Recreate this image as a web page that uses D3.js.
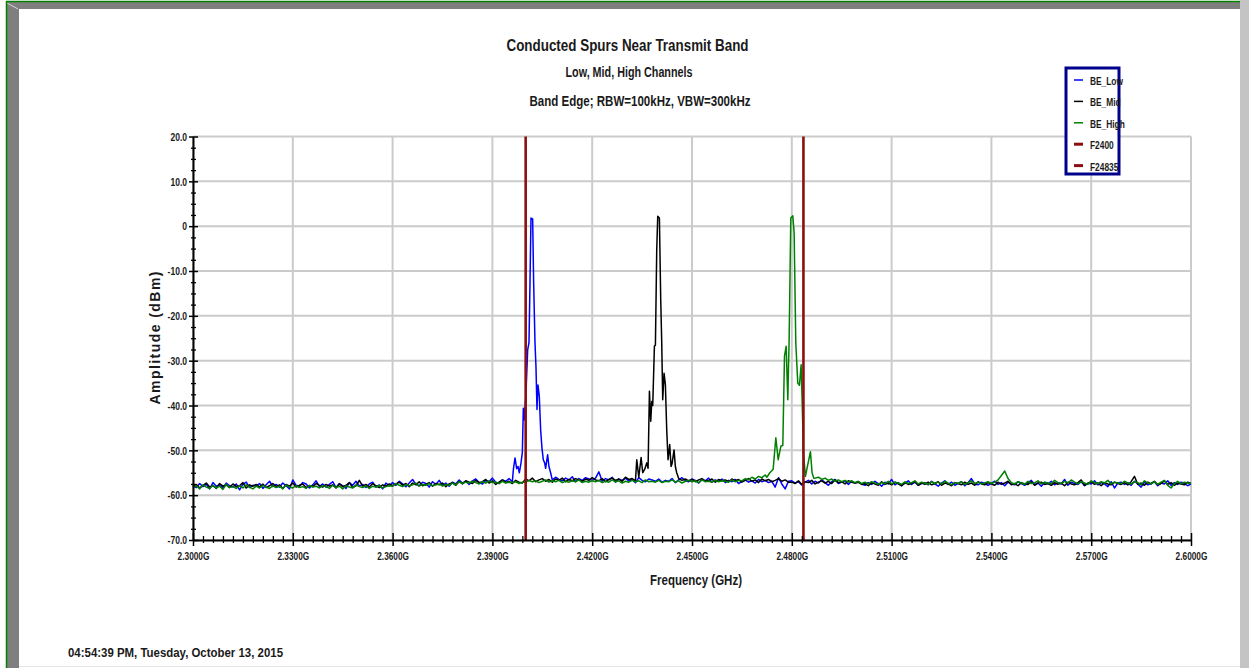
<!DOCTYPE html>
<html>
<head>
<meta charset="utf-8">
<script src="https://cdn.jsdelivr.net/npm/d3@7"></script>
<style>
  body { margin: 0; background: #fff; }
  svg text { font-family: 'Liberation Sans Narrow', 'Arial Narrow', 'Liberation Sans', Arial, sans-serif; font-weight: bold; fill: #1a1a1a; }
</style>
</head>
<body>
<svg id="chart" width="1249" height="668"></svg>
<script>
// sweep grid of the noise floor traces (GHz)
const freqStart = 2.300;
const freqStep = 0.001;

// dBm, one value per MHz, 2.300 .. 2.600 GHz
const lowFloor = [
  -57.9,-58.3,-57.4,-58.1,-57.6,-58.6,-57.2,-58.0,-57.7,-58.4,-57.3,-57.9,-58.2,-57.5,-58.8,-57.6,-57.1,-58.3,-57.8,-58.0,
  -57.4,-58.5,-57.7,-56.9,-58.1,-57.6,-58.2,-57.3,-57.9,-58.6,-56.6,-57.8,-58.0,-57.2,-57.5,-58.4,-57.7,-56.8,-58.1,-57.5,
  -58.2,-57.6,-57.0,-58.3,-57.4,-57.9,-58.5,-57.2,-57.8,-56.9,-58.0,-57.6,-58.3,-57.5,-57.1,-58.2,-57.7,-58.6,-57.3,-57.9,
  -57.2,-57.8,-56.9,-57.5,-58.1,-57.3,-56.5,-57.6,-57.9,-57.1,-57.4,-58.2,-57.0,-57.6,-56.7,-57.8,-57.3,-58.0,-57.1,-57.5,
  -56.6,-57.3,-56.9,-57.6,-56.8,-56.4,-57.2,-57.5,-56.7,-57.0,-56.2,-57.1,-57.4,-56.6,-56.9,-56.3,-57.0,-54.3,-53.6,-52.8,
  -37.2,-26.0,1.6,-31.3,-38.0,-52.1,-51.0,-53.6,-56.6,-56.0,-56.5,-56.8,-56.2,-56.6,-55.9,-57.0,-56.3,-56.7,-56.1,-56.4,
  -56.7,-56.2,-54.8,-56.9,-56.3,-56.6,-56.0,-57.1,-56.4,-56.7,-56.2,-56.8,-56.5,-57.2,-56.1,-56.7,-57.0,-56.4,-56.6,-56.9,
  -56.4,-57.1,-56.7,-56.9,-56.3,-57.2,-56.6,-56.1,-56.8,-57.0,-56.4,-56.7,-57.3,-56.5,-56.8,-56.2,-57.1,-56.6,-56.9,-56.4,
  -57.2,-56.7,-57.0,-56.5,-57.4,-56.9,-56.6,-57.1,-56.8,-57.3,-56.5,-57.0,-56.7,-57.2,-56.9,-58.2,-56.1,-57.5,-58.6,-56.9,
  -56.8,-57.3,-57.0,-57.7,-57.1,-56.7,-57.5,-56.9,-57.3,-56.6,-57.2,-57.8,-57.0,-56.5,-57.4,-57.1,-56.8,-57.6,-56.9,-57.3,
  -57.0,-57.5,-57.8,-57.2,-57.6,-56.9,-57.4,-58.0,-57.1,-57.5,-56.5,-57.7,-57.2,-57.9,-57.3,-56.8,-57.6,-57.1,-57.8,-57.4,
  -57.2,-57.7,-56.9,-57.5,-58.0,-57.3,-56.8,-57.6,-57.1,-57.8,-57.4,-57.0,-57.9,-57.2,-56.3,-57.5,-57.7,-57.1,-57.4,-57.8,
  -57.3,-56.9,-57.6,-57.2,-57.9,-57.1,-57.5,-57.7,-57.0,-57.4,-57.8,-57.2,-56.7,-57.6,-57.3,-58.0,-57.1,-57.5,-56.9,-57.7,
  -57.2,-57.5,-56.5,-57.8,-57.1,-57.4,-57.6,-57.0,-57.9,-57.3,-57.5,-56.8,-57.7,-57.2,-57.5,-58.1,-57.0,-58.4,-57.3,-57.1,
  -57.6,-57.2,-57.8,-56.9,-57.5,-58.2,-57.1,-57.7,-57.4,-57.0,-57.9,-57.3,-57.5,-56.8,-57.8,-57.2,-57.6,-57.1,-57.4,-57.9,
  -57.5
];
const midFloor = [
  -58.1,-57.6,-58.4,-57.8,-57.3,-58.2,-57.9,-58.5,-57.4,-58.0,-57.7,-58.3,-57.5,-58.1,-57.9,-57.2,-58.4,-57.7,-58.0,-57.6,
  -58.2,-57.5,-58.3,-57.9,-57.4,-58.1,-57.7,-58.5,-57.6,-58.0,-57.3,-58.2,-57.8,-57.5,-58.3,-57.9,-58.1,-57.4,-57.8,-58.2,
  -57.6,-58.0,-57.7,-58.4,-57.5,-58.1,-57.8,-57.2,-58.3,-57.9,-56.7,-58.0,-57.6,-58.2,-57.4,-57.9,-58.3,-57.7,-58.0,-57.5,
  -57.9,-57.5,-57.1,-57.8,-57.4,-58.1,-57.3,-57.7,-57.0,-57.9,-57.6,-57.2,-58.0,-57.4,-57.7,-57.3,-58.1,-57.5,-57.2,-57.8,
  -56.9,-57.5,-56.8,-57.1,-57.4,-56.7,-57.2,-57.0,-56.5,-57.3,-56.8,-57.6,-57.1,-56.6,-57.2,-56.9,-57.4,-56.7,-57.1,-57.3,
  -56.4,-56.8,-56.2,-57.0,-56.6,-56.3,-56.9,-56.5,-57.1,-56.4,-56.7,-56.2,-57.0,-56.5,-56.8,-56.3,-56.6,-56.9,-56.4,-56.7,
  -56.1,-56.6,-56.8,-56.3,-57.0,-56.5,-56.2,-56.7,-56.4,-56.9,-56.0,-56.5,-56.3,-56.8,-55.1,-51.6,-52.8,-54.0,-36.8,-26.5,
  2.0,-26.0,-32.8,-45.4,-48.7,-53.0,-53.6,-56.7,-56.4,-56.8,-56.5,-57.0,-56.6,-56.3,-56.9,-56.7,-56.4,-57.1,-56.5,-56.8,
  -56.6,-57.0,-56.4,-56.8,-56.5,-57.1,-56.7,-56.3,-56.9,-56.6,-57.2,-56.4,-56.8,-56.5,-57.0,-56.7,-56.3,-56.9,-56.6,-57.1,
  -57.1,-57.4,-56.8,-57.6,-57.0,-57.2,-56.7,-57.5,-57.1,-56.8,-57.3,-56.9,-57.4,-56.6,-57.2,-57.0,-57.5,-56.8,-57.1,-57.3,
  -57.1,-57.6,-57.4,-57.9,-57.2,-57.5,-57.8,-57.0,-57.6,-57.3,-57.7,-57.1,-57.5,-57.9,-57.2,-57.6,-57.4,-56.9,-57.8,-57.3,
  -57.6,-57.1,-57.7,-57.4,-57.0,-57.8,-57.3,-57.5,-57.9,-57.2,-57.4,-57.7,-57.1,-57.6,-57.3,-57.8,-57.0,-57.5,-57.7,-57.2,
  -57.5,-57.8,-57.1,-57.6,-57.3,-56.9,-57.7,-57.4,-57.9,-57.2,-57.5,-57.6,-57.0,-57.8,-57.3,-57.1,-57.6,-57.4,-57.8,-57.2,
  -57.6,-57.3,-57.9,-57.1,-57.5,-57.7,-57.2,-56.6,-57.8,-57.4,-57.0,-57.6,-57.3,-57.9,-57.2,-57.5,-57.7,-57.1,-57.4,-57.6,
  -57.2,-57.7,-57.0,-55.8,-57.6,-57.3,-57.8,-57.1,-57.5,-56.9,-57.7,-57.4,-56.8,-57.6,-57.2,-57.8,-57.3,-57.5,-57.7,-57.1,
  -57.4
];
const highFloor = [
  -58.3,-57.9,-58.6,-57.7,-58.2,-58.5,-57.8,-58.4,-58.0,-58.7,-57.6,-58.3,-58.1,-58.5,-57.9,-58.4,-57.7,-58.2,-58.6,-58.0,
  -58.4,-57.8,-58.2,-58.5,-57.9,-58.3,-58.0,-58.6,-57.7,-58.2,-58.4,-57.9,-58.3,-58.1,-58.5,-57.8,-58.2,-58.0,-58.4,-57.9,
  -58.1,-58.5,-57.8,-58.3,-58.0,-58.6,-57.9,-58.2,-58.4,-57.7,-58.1,-58.3,-57.9,-58.5,-58.0,-58.2,-57.8,-58.4,-58.1,-57.9,
  -58.0,-57.4,-57.8,-58.1,-57.6,-57.9,-57.7,-57.3,-58.0,-57.6,-57.8,-57.4,-57.9,-57.7,-57.5,-58.0,-57.6,-57.8,-57.3,-57.7,
  -57.0,-57.4,-57.1,-57.3,-56.9,-57.2,-57.5,-57.0,-57.3,-56.8,-57.2,-57.1,-57.4,-56.9,-57.3,-57.1,-57.2,-57.0,-57.4,-57.1,
  -57.1,-56.7,-57.0,-56.8,-57.2,-56.9,-56.6,-57.1,-56.8,-57.0,-56.7,-57.2,-56.9,-57.1,-56.8,-57.0,-56.6,-57.2,-56.9,-57.1,
  -56.8,-57.0,-56.7,-57.2,-56.9,-57.1,-56.6,-57.0,-56.8,-57.3,-56.9,-57.1,-56.7,-57.0,-56.8,-57.2,-56.6,-57.0,-56.9,-57.1,
  -56.7,-57.2,-56.9,-57.0,-56.6,-57.1,-56.8,-57.3,-56.9,-56.7,-57.0,-56.8,-57.2,-56.6,-57.0,-56.9,-57.1,-56.7,-57.0,-56.8,
  -56.9,-57.1,-56.6,-57.0,-56.7,-56.8,-56.3,-56.6,-56.0,-56.4,-55.8,-56.1,-55.5,-55.2,-54.6,-52.1,-48.9,-26.8,-25.3,-2.0,
  2.3,-26.0,-35.5,-38.7,-53.0,-53.6,-50.3,-56.2,-56.0,-56.5,-56.2,-56.7,-56.4,-56.9,-56.6,-57.0,-56.7,-57.1,-56.8,-57.2,
  -56.9,-57.4,-57.1,-57.5,-57.0,-57.3,-57.6,-57.2,-57.4,-56.9,-57.5,-57.1,-57.3,-57.6,-57.0,-57.4,-57.2,-56.8,-57.5,-57.1,
  -57.3,-57.6,-57.0,-57.4,-57.1,-57.5,-56.9,-57.3,-57.7,-57.2,-57.4,-57.0,-57.6,-57.2,-56.8,-57.4,-57.1,-57.5,-57.3,-57.0,
  -57.4,-57.1,-56.6,-55.6,-54.6,-56.3,-57.2,-57.5,-57.0,-57.3,-57.6,-56.9,-57.4,-57.2,-56.8,-57.5,-57.1,-57.3,-57.4,-56.7,
  -57.2,-57.4,-56.9,-57.3,-56.6,-57.1,-57.5,-57.0,-57.3,-57.6,-56.8,-57.2,-57.4,-57.0,-57.3,-56.7,-57.5,-57.1,-57.3,-57.4,
  -56.9,-57.3,-57.5,-57.0,-57.2,-57.7,-56.8,-57.3,-57.4,-57.0,-57.6,-57.1,-56.7,-57.8,-58.4,-57.4,-56.9,-57.5,-57.1,-57.3,
  -57.4
];

// finer [GHz, dBm] readings around each carrier
const lowPeak = [
  [2.3960,-57.0],[2.3963,-54.3],[2.3968,-51.7],[2.3973,-54.1],[2.3977,-53.6],[2.3981,-55.0],[2.3986,-52.8],
  [2.3990,-50.5],[2.3993,-40.6],[2.3996,-43.2],[2.4001,-37.2],[2.4006,-27.6],[2.4010,-26.0],[2.4013,-12.6],
  [2.4016,1.8],[2.4021,1.6],[2.4024,-12.6],[2.4028,-26.0],[2.4031,-31.3],[2.4034,-40.9],[2.4037,-35.4],
  [2.4041,-38.0],[2.4045,-45.4],[2.4049,-49.5],[2.4053,-52.1],[2.4057,-52.8],[2.4060,-54.0],[2.4066,-51.0],
  [2.4070,-53.6],[2.4075,-55.0],[2.4080,-56.6]
];
const midPeak = [
  [2.4330,-56.8],[2.4334,-52.1],[2.4340,-56.0],[2.4347,-51.6],[2.4352,-55.0],[2.4358,-54.2],[2.4364,-52.8],
  [2.4368,-54.0],[2.4372,-36.8],[2.4376,-43.5],[2.4379,-39.1],[2.4382,-40.0],[2.4387,-26.8],[2.4390,-26.5],
  [2.4394,-5.2],[2.4397,2.2],[2.4402,1.8],[2.4406,-16.4],[2.4409,-26.0],[2.4412,-38.7],[2.4416,-32.8],
  [2.4420,-35.4],[2.4424,-45.4],[2.4428,-52.1],[2.4433,-48.7],[2.4437,-53.6],[2.4440,-53.0],[2.4446,-49.9],
  [2.4450,-53.6],[2.4454,-55.0],[2.4460,-56.3]
];
const highPeak = [
  [2.4725,-56.0],[2.4734,-55.0],[2.4744,-54.2],[2.4752,-47.2],[2.4759,-52.1],[2.4767,-49.1],[2.4773,-48.9],
  [2.4778,-29.0],[2.4783,-26.8],[2.4788,-38.7],[2.4792,-25.3],[2.4797,1.8],[2.4803,2.3],[2.4807,-1.5],
  [2.4812,-26.0],[2.4818,-35.0],[2.4823,-35.5],[2.4828,-30.9],[2.4831,-38.7],[2.4835,-50.6],[2.4841,-55.8],
  [2.4847,-53.6],[2.4856,-50.3],[2.4861,-55.0],[2.4866,-56.2]
];

const seriesNames = ['BE_Low', 'BE_Mid', 'BE_High'];
const seriesColors = ['#0000ff', '#000000', '#008000'];
const markerNames = ['F2400', 'F24835'];
const markerFreqs = [2.4000, 2.4835];

const xMajor = [2.30, 2.33, 2.36, 2.39, 2.42, 2.45, 2.48, 2.51, 2.54, 2.57, 2.60];
const xTickLabels = ['2.3000G','2.3300G','2.3600G','2.3900G','2.4200G','2.4500G','2.4800G','2.5100G','2.5400G','2.5700G','2.6000G'];
const yMajor = [20, 10, 0, -10, -20, -30, -40, -50, -60, -70];
const yTickLabels = ['20.0','10.0','0','-10.0','-20.0','-30.0','-40.0','-50.0','-60.0','-70.0'];

const svg = d3.select('#chart');

// squeeze text horizontally, the original uses a narrow face
function squeeze(sel, ratio) {
  sel.each(function() {
    const w = this.getComputedTextLength();
    d3.select(this).attr('textLength', w * ratio).attr('lengthAdjust', 'spacingAndGlyphs');
  });
}

// window frame
svg.append('rect').attr('x', 1240).attr('y', 0).attr('width', 9).attr('height', 668).attr('fill', '#c4c4c4');
svg.append('rect').attr('x', 6).attr('y', 2).attr('width', 1234).attr('height', 7).attr('fill', '#7f7f7f');
svg.append('rect').attr('x', 6).attr('y', 2).attr('width', 13).attr('height', 666).attr('fill', '#7f7f7f');
svg.append('line').attr('x1', 7).attr('y1', 3).attr('x2', 18).attr('y2', 9).attr('stroke', '#d8d8d8').attr('stroke-width', 1);
svg.append('line').attr('x1', 6).attr('y1', 1.5).attr('x2', 1240).attr('y2', 1.5).attr('stroke', '#008000').attr('stroke-width', 1.5);
svg.append('line').attr('x1', 6.5).attr('y1', 1).attr('x2', 6.5).attr('y2', 668).attr('stroke', '#008000').attr('stroke-width', 1.5);
svg.append('line').attr('x1', 19).attr('y1', 666.5).attr('x2', 1240).attr('y2', 666.5).attr('stroke', '#e4e4e4');

const x = d3.scaleLinear().domain([2.30, 2.60]).range([193, 1191]);
const y = d3.scaleLinear().domain([-70, 20]).range([540, 136.5]);

// grid
const grid = svg.append('g').attr('stroke', '#cbcbcb').attr('stroke-width', 2);
grid.selectAll('.gx').data(xMajor).enter().append('line')
  .attr('x1', d => x(d)).attr('x2', d => x(d))
  .attr('y1', y(20)).attr('y2', y(-70));
grid.selectAll('.gy').data(yMajor).enter().append('line')
  .attr('x1', x(2.30)).attr('x2', x(2.60))
  .attr('y1', d => y(d)).attr('y2', d => y(d));

// traces
function buildTrace(floor, peak) {
  const lo = peak[0][0], hi = peak[peak.length - 1][0];
  const pts = [];
  floor.forEach(function(v, i) {
    const f = +(freqStart + i * freqStep).toFixed(4);
    if (f < lo - 1e-9 || f > hi + 1e-9) pts.push([f, v]);
  });
  return pts.concat(peak).sort((a, b) => a[0] - b[0]);
}
const traces = [buildTrace(lowFloor, lowPeak), buildTrace(midFloor, midPeak), buildTrace(highFloor, highPeak)];
const line = d3.line().x(d => x(d[0])).y(d => y(d[1]));

svg.append('g').selectAll('path').data(traces).enter().append('path')
  .attr('d', line)
  .attr('fill', 'none')
  .attr('stroke', (d, i) => seriesColors[i])
  .attr('stroke-width', 1.5)
  .attr('stroke-linejoin', 'round');

// band edge markers
svg.append('g').selectAll('line').data(markerFreqs).enter().append('line')
  .attr('x1', d => x(d)).attr('x2', d => x(d))
  .attr('y1', y(20)).attr('y2', y(-70))
  .attr('stroke', '#8b0f0f').attr('stroke-width', 2.6);

// axes
const xMinor = d3.range(0, 101).map(i => 2.30 + i * 0.003).filter((d, i) => i % 10 !== 0);
const yMinor = d3.range(-70, 20, 2.5).filter(d => d % 10 !== 0);

const xAxisG = svg.append('g').attr('transform', 'translate(0,540)');
xAxisG.append('g').call(d3.axisBottom(x).tickValues(xMinor).tickSize(3).tickSizeOuter(0).tickFormat(''))
  .call(g => g.select('.domain').remove())
  .call(g => g.selectAll('.tick line').attr('y1', -4).attr('y2', 3).attr('stroke-width', 1.3));
xAxisG.append('g').call(d3.axisBottom(x).tickValues(xMajor).tickSize(6).tickSizeOuter(0).tickFormat((d, i) => xTickLabels[i]))
  .call(g => g.select('.domain').attr('stroke-width', 2))
  .call(g => g.selectAll('.tick line').attr('y1', -7).attr('y2', 6).attr('stroke-width', 1.5))
  .call(g => g.selectAll('.tick text').attr('y', 20).attr('dy', 0).attr('font-size', 11.5).attr('fill', '#1a1a1a'));
squeeze(xAxisG.selectAll('.tick text'), 0.72);

const yAxisG = svg.append('g').attr('transform', 'translate(193,0)');
yAxisG.append('g').call(d3.axisLeft(y).tickValues(yMinor).tickSize(2).tickSizeOuter(0).tickFormat(''))
  .call(g => g.select('.domain').remove())
  .call(g => g.selectAll('.tick line').attr('x1', -2).attr('x2', 3).attr('stroke-width', 1.3));
yAxisG.append('g').call(d3.axisLeft(y).tickValues(yMajor).tickSize(4).tickSizeOuter(0).tickFormat((d, i) => yTickLabels[i]))
  .call(g => g.select('.domain').attr('stroke-width', 2))
  .call(g => g.selectAll('.tick line').attr('x1', -4).attr('x2', 5).attr('stroke-width', 1.5))
  .call(g => g.selectAll('.tick text').attr('x', -6).attr('font-size', 11.5).attr('fill', '#1a1a1a'));
squeeze(yAxisG.selectAll('.tick text'), 0.74);
svg.selectAll('.domain').attr('stroke', '#000');
svg.selectAll('.tick line').attr('stroke', '#000');

// titles
svg.append('text').attr('x', 627.5).attr('y', 51).attr('text-anchor', 'middle')
  .attr('font-size', 17).attr('textLength', 242).attr('lengthAdjust', 'spacingAndGlyphs')
  .text('Conducted Spurs Near Transmit Band');
svg.append('text').attr('x', 629).attr('y', 77).attr('text-anchor', 'middle')
  .attr('font-size', 14).attr('textLength', 127).attr('lengthAdjust', 'spacingAndGlyphs')
  .text('Low, Mid, High Channels');
svg.append('text').attr('x', 640).attr('y', 106).attr('text-anchor', 'middle')
  .attr('font-size', 14).attr('textLength', 221).attr('lengthAdjust', 'spacingAndGlyphs')
  .text('Band Edge; RBW=100kHz, VBW=300kHz');
svg.append('text').attr('x', 696).attr('y', 585).attr('text-anchor', 'middle')
  .attr('font-size', 14).attr('textLength', 92).attr('lengthAdjust', 'spacingAndGlyphs')
  .text('Frequency (GHz)');
svg.append('text').attr('transform', 'translate(160,338) rotate(-90)').attr('text-anchor', 'middle')
  .attr('font-size', 14).attr('textLength', 133).attr('lengthAdjust', 'spacing')
  .text('Amplitude (dBm)');
svg.append('text').attr('x', 68).attr('y', 657).attr('font-size', 12.5)
  .attr('textLength', 215).attr('lengthAdjust', 'spacingAndGlyphs')
  .text('04:54:39 PM, Tuesday, October 13, 2015');

// legend
const legend = svg.append('g');
legend.append('rect').attr('x', 1066).attr('y', 68).attr('width', 53).attr('height', 106)
  .attr('fill', '#fff').attr('stroke', '#00008b').attr('stroke-width', 3);
const legendNames = seriesNames.concat(markerNames);
const legendColors = seriesColors.concat(['#8b0f0f', '#8b0f0f']);
legendNames.forEach(function(name, i) {
  const by = 85 + i * 21.4;
  legend.append('line').attr('x1', 1074).attr('x2', 1083).attr('y1', by - 5).attr('y2', by - 5)
    .attr('stroke', legendColors[i]).attr('stroke-width', i < 3 ? 1.5 : 3);
  legend.append('text').attr('x', 1090).attr('y', by).attr('font-size', 11).text(name);
});
squeeze(legend.selectAll('text'), 0.76);
</script>
</body>
</html>
